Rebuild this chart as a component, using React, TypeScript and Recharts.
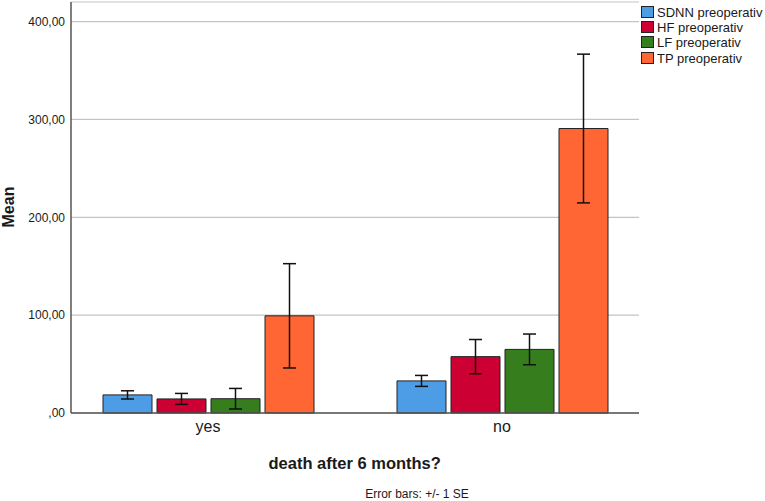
import { BarChart, Bar, XAxis, YAxis, CartesianGrid, ErrorBar, Label } from "recharts";

// Group means and standard errors
const categories = ["yes", "no"];
const sdnnMean = [18.5, 32.8];
const sdnnSe = [4.2, 5.6];
const hfMean = [14.4, 57.6];
const hfSe = [5.6, 17.5];
const lfMean = [14.6, 65.0];
const lfSe = [10.5, 15.7];
const tpMean = [99.3, 290.7];
const tpSe = [53.3, 76.0];

const yTicks = [0, 100, 200, 300, 400];

const seriesNames = ["SDNN preoperativ", "HF preoperativ", "LF preoperativ", "TP preoperativ"];
const seriesKeys = ["sdnn", "hf", "lf", "tp"];
const seriesColors = ["#4c9de6", "#cd0034", "#367d1e", "#ff6633"];

const data = categories.map((cat, i) => ({
  cat,
  sdnn: sdnnMean[i],
  sdnnErr: sdnnSe[i],
  hf: hfMean[i],
  hfErr: hfSe[i],
  lf: lfMean[i],
  lfErr: lfSe[i],
  tp: tpMean[i],
  tpErr: tpSe[i],
}));

const FONT = '"Liberation Sans", Arial, sans-serif';

const fmtTick = (v: number) => (v === 0 ? ",00" : v.toFixed(2).replace(".", ","));

export default function App() {
  return (
    <div style={{ position: "relative", width: 765, height: 501, background: "#fff", fontFamily: FONT, overflow: "hidden" }}>
      <style>{`body { margin: 0; }`}</style>
      <BarChart
        width={765}
        height={501}
        data={data}
        margin={{ top: 2, right: 126, left: 11, bottom: 58 }}
        barSize={49}
        barGap={5}
      >
        <CartesianGrid horizontal vertical={false} stroke="#c4c4c4" strokeWidth={1.2} />
        <XAxis
          dataKey="cat"
          tickLine={false}
          axisLine={{ stroke: "#555", strokeWidth: 1.5 }}
          tick={{ fill: "#1a1a1a", fontSize: 16, fontFamily: FONT }}
          padding={{ left: -10, right: -10 }}
          height={30}
        >
          <Label
            content={() => (
              <g fontFamily={FONT} fill="#1a1a1a">
                <text x={354.7} y={469} textAnchor="middle" fontSize={16.5} fontWeight="bold">
                  death after 6 months?
                </text>
                <text x={417} y={498} textAnchor="middle" fontSize={12}>
                  Error bars: +/- 1 SE
                </text>
              </g>
            )}
          />
        </XAxis>
        <YAxis
          width={60}
          domain={[0, 420]}
          ticks={yTicks}
          tickFormatter={fmtTick}
          tickLine={false}
          tickSize={4}
          axisLine={{ stroke: "#555", strokeWidth: 1.5 }}
          tick={{ fill: "#1a1a1a", fontSize: 12, fontFamily: FONT }}
        >
          <Label
            content={() => (
              <text
                transform="translate(14, 207) rotate(-90)"
                textAnchor="middle"
                fontFamily={FONT}
                fontSize={16}
                fontWeight="bold"
                fill="#1a1a1a"
              >
                Mean
              </text>
            )}
          />
        </YAxis>
        {seriesKeys.map((k, i) => (
          <Bar key={k} dataKey={k} fill={seriesColors[i]} stroke="#222" strokeWidth={1} isAnimationActive={false}>
            <ErrorBar dataKey={k + "Err"} width={6.5} stroke="#111" strokeWidth={1.5} direction="y" />
          </Bar>
        ))}
      </BarChart>

      {/* Legend, top right as in SPSS */}
      <div style={{ position: "absolute", left: 641, top: 4 }}>
        {seriesNames.map((name, i) => (
          <div key={name} style={{ display: "flex", alignItems: "center", height: 15.3 }}>
            <span
              style={{
                flex: "none",
                width: 11,
                height: 10,
                background: seriesColors[i],
                border: "1px solid #222",
                marginRight: 3,
              }}
            />
            <span style={{ fontSize: 13, color: "#1a1a1a", lineHeight: "15px", whiteSpace: "nowrap", marginTop: 1 }}>
              {name}
            </span>
          </div>
        ))}
      </div>
    </div>
  );
}
